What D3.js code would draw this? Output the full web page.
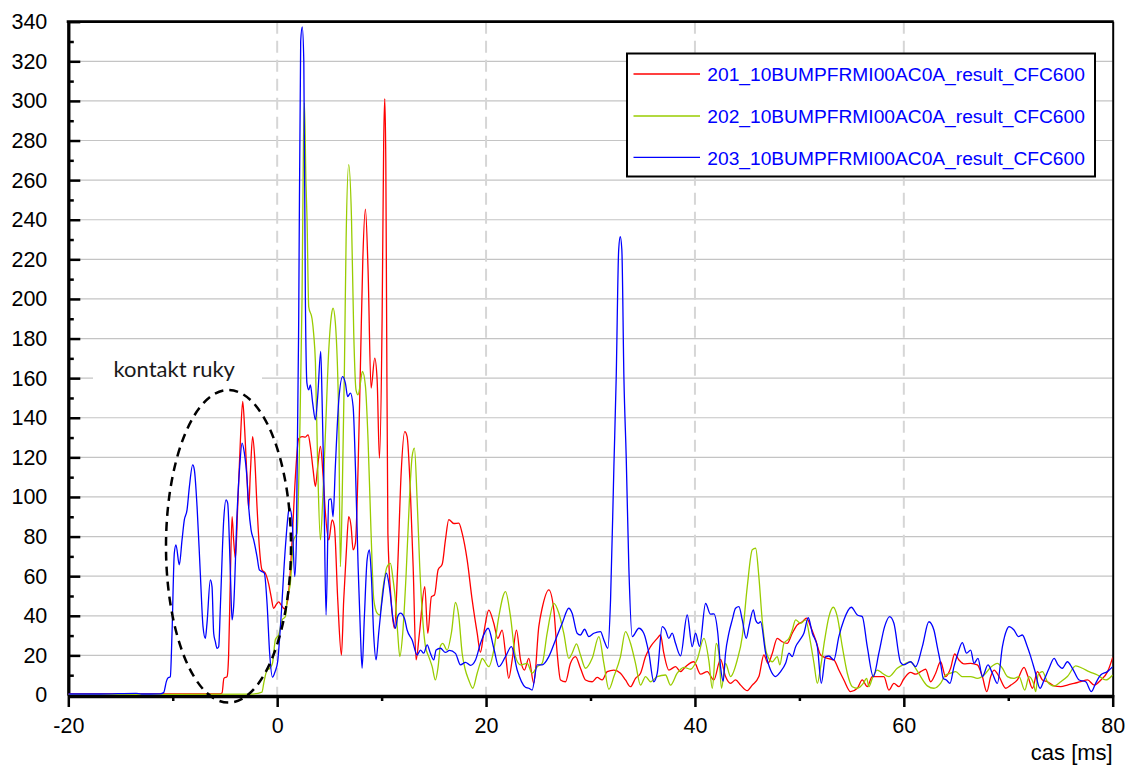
<!DOCTYPE html>
<html>
<head>
<meta charset="utf-8">
<script src="https://cdn.jsdelivr.net/npm/d3@7"></script>
<style>
  html, body { margin: 0; padding: 0; background: #fff; }
  svg { display: block; }
</style>
</head>
<body>
<svg id="chart" width="1126" height="765"></svg>
<script>
// ---- data: time [ms], value -------------------------------------------
const seriesNames = [
  "201_10BUMPFRMI00AC0A_result_CFC600",
  "202_10BUMPFRMI00AC0A_result_CFC600",
  "203_10BUMPFRMI00AC0A_result_CFC600"
];

const series201 = [
  [-20,0.5],[-10,0.5],[-5.5,0.5],[-5.28,1],[-5.1,8.4],[-4.8,9.3],[-4.65,20],[-4.5,55],[-4.32,90.1],
  [-4.17,78.3],[-4.0,69.1],[-3.78,95.1],[-3.52,128.9],[-3.3,148.2],[-3.11,133.9],[-2.88,108.6],
  [-2.73,94.3],[-2.57,112],[-2.35,130.5],[-2.16,120.4],[-1.93,95.1],[-1.71,74.9],[-1.45,63.2],
  [-1.13,61.5],[-0.81,56],[-0.58,49.7],[-0.34,43.8],[-0.05,46],[0.15,47],[0.37,45.5],[0.7,43.5],
  [0.95,46.3],[1.2,58],[1.43,78],[1.74,110],[2.06,129.5],[2.38,130.5],[2.7,130.2],[2.96,131.4],
  [3.18,125.5],[3.44,113.7],[3.66,105.3],[3.88,115.4],[4.14,125.5],[4.4,110.3],[4.62,91.8],
  [4.94,78.3],[5.26,88.4],[5.48,85],[5.8,48],[6.15,20.2],[6.37,48],[6.63,73.3],[6.85,90.1],
  [7.08,85],[7.27,73.3],[7.49,76.7],[7.75,115.4],[7.97,165.9],[8.2,220],[8.45,245.4],[8.7,215],
  [8.99,155],[9.34,170.1],[9.57,159.2],[9.79,119.6],[10.05,191.2],[10.2,280],[10.3,301.2],
  [10.4,270],[10.47,200],[10.6,81.7],[10.91,48],[11.23,33.7],[11.54,64.8],[11.87,112],[12.21,133],
  [12.44,130.5],[12.76,101.9],[13.02,64.8],[13.3,17.7],[13.62,31.2],[14.13,54.7],[14.42,31.2],
  [14.77,49.7],[15.06,50.5],[15.41,63.2],[15.8,66],[16.11,78.3],[16.43,88.6],[16.91,86.6],
  [17.39,86.8],[17.71,81.7],[18.19,68.2],[18.67,48],[19.15,31.2],[19.46,21.6],[19.78,31.2],
  [20.26,42.9],[20.74,36.2],[21.12,28.6],[21.54,32.8],[21.86,21.1],[22.17,8.4],[22.5,17.7],
  [22.91,32.8],[23.3,17.7],[23.68,12.6],[24.09,18.5],[24.57,5.9],[25.05,34.5],[25.37,43.8],
  [26.01,53.1],[26.49,42.9],[26.81,21.1],[27.13,7.6],[27.61,6.7],[28.08,16],[28.56,19.4],
  [29.04,13.5],[29.52,7.6],[30.16,6.7],[30.64,8.9],[31.12,7.6],[31.6,11.8],[32.24,12.6],[32.87,11],
  [33.35,7.6],[33.83,4.2],[34.31,8.4],[34.79,11],[35.27,19.4],[35.75,24.4],[36.39,28.6],[36.7,30.3],
  [37.02,21.1],[37.5,12.6],[38.14,14.3],[38.62,11.8],[39.1,14.3],[39.9,16.8],[40.54,10.5],
  [41.18,11.8],[41.81,7.6],[42.45,18],[42.93,9.3],[43.41,5.9],[43.89,7.6],[44.37,5],[45.01,2.2],
  [45.49,5],[46.12,9.3],[46.6,20.2],[46.99,16],[47.41,21.1],[47.88,28.6],[48.36,26.9],[48.84,26.1],
  [49.32,31.2],[49.8,35.4],[50.28,37],[50.69,38.8],[51.08,34.5],[51.56,27.8],[52.04,20.2],
  [52.68,18.5],[53.3,17.7],[53.78,12.6],[54.26,7.6],[54.9,1.7],[55.55,3.4],[56.02,7.6],[56.5,4.2],
  [56.98,9.3],[57.46,9.3],[58.09,9.3],[58.57,2.5],[59.05,5.9],[59.53,4.2],[60.01,8.2],[60.65,11.4],
  [61.13,10.5],[61.61,11.8],[62.09,13],[62.57,6.7],[63.05,11],[63.52,16.8],[64,9.3],[64.48,13.5],
  [64.87,20.7],[65.28,17.7],[65.76,15.7],[66.4,16],[67.04,15.2],[67.52,9.3],[67.94,1.7],[68.32,9.3],
  [68.64,12.6],[69.12,9.3],[69.76,3.4],[70.24,5],[70.87,7.6],[71.51,14],[71.89,9.3],[72.32,3.4],
  [72.79,11.8],[73.27,7.6],[73.75,6.7],[74.39,4.6],[75.03,4.2],[75.66,5],[76.3,5.9],[76.94,6.7],
  [77.59,7.6],[78.23,5],[78.87,7.6],[79.51,11.8],[80,19]
];

const series202 = [
  [-20,0.3],[-10,0.3],[-2.6,0.4],[-1.45,1.5],[-1.29,5.9],[-0.97,12.6],[-0.7,13.5],[-0.45,16],
  [-0.17,28],[0.15,30.5],[0.47,37.9],[0.79,39.6],[0.95,48],[1.26,56.4],[1.58,78.3],[1.9,81.7],
  [2.15,128.9],[2.38,200],[2.52,280],[2.61,299],[2.75,260],[2.86,240],[3.02,196],[3.34,190],
  [3.5,182],[3.66,168],[3.88,115.4],[4.14,78.3],[4.36,98.5],[4.62,132.2],[4.94,174.3],[5.2,192],
  [5.35,195.4],[5.57,188],[5.9,137.3],[6.05,64.8],[6.22,98.5],[6.44,165.9],[6.6,230],[6.85,267.8],
  [7.11,241.7],[7.33,182.8],[7.55,154],[7.75,151.6],[7.97,157.5],[8.16,163.4],[8.45,156],
  [8.7,128.9],[8.99,81.7],[9.25,48],[9.57,41.3],[9.82,40.4],[10.11,53.1],[10.52,64.8],[10.84,66.5],
  [11.1,58.1],[11.32,48],[11.54,31.2],[11.74,19.4],[12.02,31.2],[12.35,61.5],[12.66,98.5],
  [12.92,120.4],[13.14,124.7],[13.4,98.5],[13.65,64.8],[13.94,37.9],[14.2,24.4],[14.51,19.4],
  [14.84,14.3],[15.15,7.6],[15.41,14.3],[15.63,24.8],[15.85,26.1],[16.27,22.7],[16.7,32],
  [17.07,46.7],[17.39,39.6],[17.71,21.1],[18.0,13],[18.34,7.6],[18.73,3.4],[19.15,11],[19.47,16.5],
  [19.62,18.5],[20.26,14.3],[20.74,22.7],[21.22,39.6],[21.86,52.2],[22.34,39.6],[22.82,19.4],
  [23.3,15.2],[23.94,16],[24.41,11],[24.9,14.3],[25.37,16],[25.85,31.2],[26.49,46.3],[26.97,41.3],
  [27.44,31.2],[27.92,18.5],[28.24,21.1],[28.66,25.8],[29.04,20.2],[29.52,13.5],[30.16,18.5],
  [30.8,29.5],[31.28,16],[31.76,2.9],[32.24,9.3],[32.87,19.4],[33.35,32],[33.83,26.1],[34.31,16],
  [34.79,5],[35.27,9.3],[35.75,6.7],[36.39,9.3],[37.18,10.1],[37.66,5],[38.3,11],[38.94,14],
  [39.58,13],[40.22,18],[40.86,28.6],[41.34,17],[41.66,3.4],[42.04,26],[42.29,21.1],[42.54,3.4],
  [42.93,16],[43.41,9.3],[44.05,17.7],[44.53,29.5],[45.01,54.7],[45.49,73.3],[45.81,74.1],
  [46.12,59.8],[46.44,37.9],[46.86,21.1],[47.41,16.8],[47.88,19.4],[48.13,15.2],[48.52,26.1],
  [49,28.6],[49.32,32.8],[49.64,37.9],[50.12,36.2],[50.6,37.9],[51.08,26.1],[51.4,16],[51.72,5.9],
  [52.04,14.3],[52.42,27.8],[52.83,39.6],[53.25,44.3],[53.63,39.6],[54.11,24.4],[54.59,11],
  [55.07,4.2],[55.55,3.4],[56.12,5.9],[56.44,8.4],[56.66,4.2],[56.98,8.4],[57.46,12.6],[57.94,11],
  [58.57,9.3],[59.37,13.5],[60.01,15.5],[60.65,16.8],[61.13,13.5],[61.61,9.3],[62.25,4.6],
  [62.88,3.4],[63.52,5.9],[64,10.1],[64.48,11],[64.96,11.8],[65.6,9.3],[66.4,9.3],[67.04,8.4],
  [67.68,10.1],[68.32,14],[68.96,16],[69.44,13.5],[69.92,9.3],[70.55,8.4],[71.03,9.3],[71.58,2.5],
  [71.99,9.3],[72.41,5.9],[72.63,1.7],[72.85,10.1],[73.27,11.8],[73.75,6.7],[74.39,4.6],
  [75.03,6.7],[75.66,9.3],[76.46,14.7],[77.1,13.5],[77.74,11.8],[78.54,10.1],[79.34,7.6],[80,10.1]
];

const series203 = [
  [-20,0.5],[-17,0.5],[-13.5,0.8],[-13,0.5],[-11.2,0.6],[-10.87,1.2],[-10.6,7],[-10.49,8.4],
  [-10.23,9.3],[-10.07,31],[-9.85,71.6],[-9.69,75.8],[-9.37,65.7],[-9.11,78.3],[-8.89,88.4],
  [-8.63,93.5],[-8.41,105],[-8.09,116.2],[-7.93,113.7],[-7.67,95],[-7.36,61.5],[-7.1,34.5],
  [-6.88,28.6],[-6.72,36.2],[-6.4,58.1],[-6.24,54.7],[-6.08,31.2],[-5.92,26.9],[-5.76,23.6],
  [-5.6,24.4],[-5.44,44.6],[-5.12,88.4],[-4.9,98.5],[-4.74,96.9],[-4.48,61.5],[-4.32,37.9],
  [-4.17,44.6],[-3.84,91.8],[-3.59,115.4],[-3.36,127.2],[-3.14,122.1],[-2.88,108.6],[-2.73,95.1],
  [-2.5,83.4],[-2.25,78.3],[-1.93,69.9],[-1.71,63.2],[-1.45,62.3],[-1.23,61.5],[-0.97,46.3],
  [-0.72,21.1],[-0.45,9],[-0.2,11.8],[0.05,17],[0.31,34.5],[0.79,74.9],[1.1,93],[1.2,94.3],
  [1.43,88.4],[1.68,59.8],[1.84,78.3],[2.06,189.5],[2.25,330],[2.4,337.4],[2.55,320],[2.7,200],
  [2.85,157.5],[3.02,154.1],[3.18,156.6],[3.4,147.4],[3.66,139],[3.88,150.7],[4.17,173.5],[4.3,149],
  [4.46,110],[4.68,40.4],[4.94,98.5],[5.16,99],[5.35,90],[5.57,115.4],[5.9,149],[6.27,160.8],
  [6.53,157.5],[6.75,150.7],[7.01,152.4],[7.27,145.7],[7.49,115.4],[7.75,64.8],[7.97,31.2],
  [8.13,13.5],[8.35,39.6],[8.61,68.2],[8.83,73.3],[9.02,59.8],[9.25,29.5],[9.47,17.7],[9.72,31.2],
  [10.05,48],[10.46,61.5],[10.78,53.1],[11.06,39.6],[11.32,33.7],[11.54,39.6],[11.8,41.3],
  [12.18,38.8],[12.44,32.8],[12.92,27.8],[13.4,20.2],[13.72,22.7],[14.03,21.1],[14.36,25.3],
  [14.67,21.1],[14.99,17.7],[15.22,22.7],[15.63,23.6],[16.11,21.5],[16.5,22.5],[17.07,21],
  [17.55,15.2],[18.03,16.5],[18.51,15],[18.99,17.7],[19.47,26.1],[20.2,33.7],[20.74,23.6],
  [21.22,14.3],[21.86,19.4],[22.43,24.4],[22.98,12.6],[23.77,3.9],[24.09,3.4],[24.41,2.5],
  [24.9,15.2],[25.37,15.2],[26.01,19.4],[26.65,27.8],[27.29,36.2],[27.92,43.8],[28.24,41.3],
  [28.72,31.2],[29.04,30.3],[29.43,33.2],[29.84,29.5],[30.32,31.2],[30.96,32],[31.28,27.8],
  [31.66,23.6],[31.92,48],[32.24,115.4],[32.46,160],[32.7,225],[32.85,231.4],[33.0,225],[33.2,160],
  [33.42,120],[33.67,64.8],[34,29.5],[34.63,33.7],[35.1,31.2],[35.59,21.1],[36.06,6.7],[36.39,11],
  [36.87,34.5],[37.18,32.8],[37.5,28.6],[37.82,31.2],[38.14,26.1],[38.62,19.8],[39.26,40.4],
  [39.74,24.4],[40.06,31.2],[40.44,24.6],[41.02,46.2],[41.49,40.8],[41.81,41],[42.19,31.2],
  [42.45,14.3],[42.7,7],[42.93,21.1],[43.25,31.2],[43.57,37.9],[43.89,43.8],[44.21,44.6],
  [44.53,37.9],[44.91,28.6],[45.17,34.5],[45.59,43],[45.81,37.9],[46.07,36.2],[46.29,37],
  [46.77,21.1],[47.24,12.6],[47.72,9.3],[48.2,11.8],[48.68,16],[49,21.1],[49.32,19.4],[49.64,24.4],
  [50.05,27.8],[50.43,31.2],[50.85,39],[51.24,31.2],[51.72,24.4],[52.1,5.9],[52.51,19.4],
  [52.83,19.7],[53.3,17.7],[53.78,29.5],[54.26,37.9],[54.97,44.3],[55.55,40.4],[56.02,39.6],
  [56.5,24.4],[57.08,9.3],[57.61,21.1],[58.16,34.5],[58.64,39.6],[59.05,36.2],[59.69,16.5],
  [60.01,15.2],[60.65,16.8],[61.13,14.3],[61.77,24.4],[62.4,37],[62.88,32.8],[63.2,24.4],[63.52,16],
  [63.78,8.4],[64.07,7.6],[64.42,5.9],[64.8,14.3],[65.18,21.1],[65.6,26.4],[66.01,21.1],[66.4,22.7],
  [66.72,16],[67.1,18.5],[67.52,9.3],[68.06,15.2],[68.48,11],[68.96,5.9],[69.44,24.4],[69.85,32.8],
  [70.07,34.5],[70.55,32.8],[70.97,29.5],[71.35,30.3],[71.77,25.3],[72.15,19.4],[72.53,12.6],
  [73.04,3.4],[73.43,7.6],[73.91,13.5],[74.39,18.5],[74.77,15.2],[75.18,13.5],[75.66,16.8],
  [76.14,13.5],[76.78,7.6],[77.42,6.7],[77.96,1.7],[78.37,5.9],[78.85,10.1],[79.49,11.8],[80,14.3]
];

const seriesColors = ["#ff0000", "#99cc00", "#0000ff"];

// ---- axes / labels --------------------------------------------------------
const xTicksMajor = [-20, 0, 20, 40, 60, 80];
const xTicksMinor = [-10, 10, 30, 50, 70];
const xGridValues = [0, 20, 40, 60];
const yTicksMajor = [0, 20, 40, 60, 80, 100, 120, 140, 160, 180, 200, 220, 240, 260, 280, 300, 320, 340];
const yTicksMinor = [10, 30, 50, 70, 90, 110, 130, 150, 170, 190, 210, 230, 250, 270, 290, 310, 330];
const yGridValues = [20, 40, 60, 80, 100, 120, 140, 160, 180, 200, 220, 240, 260, 280, 300, 320];
const xAxisTitle = "cas [ms]";
const noteText = "kontakt ruky";

// ---- drawing --------------------------------------------------------------
const svg = d3.select("#chart");
const FONT = '"Liberation Sans", Arial, sans-serif';

const plotL = 68.3, plotR = 1112.7, plotT = 21.7, plotB = 695;
const x = d3.scaleLinear().domain([-20, 80]).range([plotL, plotR]);
const y = d3.scaleLinear().domain([0, 340]).range([plotB, plotT]);

// plain ASCII hyphen for negative tick labels
const plainFormat = d => String(d);

// grid
const grid = svg.append("g");
grid.selectAll("line.h").data(yGridValues).join("line")
  .attr("class", "h")
  .attr("x1", plotL).attr("x2", plotR)
  .attr("y1", d => y(d)).attr("y2", d => y(d))
  .attr("stroke", "#c4c4c4").attr("stroke-width", 1.2);
grid.selectAll("line.v").data(xGridValues).join("line")
  .attr("class", "v")
  .attr("x1", d => x(d)).attr("x2", d => x(d))
  .attr("y1", plotT).attr("y2", plotB)
  .attr("stroke", "#d6d6d6").attr("stroke-width", 2)
  .attr("stroke-dasharray", "12,7");

// note label on a white patch
svg.append("rect").attr("x", 93).attr("y", 352).attr("width", 169).attr("height", 44).attr("fill", "#fff");
svg.append("text").attr("x", 113.5).attr("y", 376.5)
  .attr("font-family", "Lato, 'Open Sans', sans-serif").attr("font-size", 22)
  .attr("fill", "#1a1a1a").text(noteText);

// axes
const axisStyle = g => {
  g.selectAll(".tick line").attr("stroke", "#000").attr("stroke-width", 2.5);
  g.selectAll(".tick text").attr("font-family", FONT).attr("font-size", 21.5).attr("fill", "#000");
};

const yAxis = svg.append("g").attr("transform", `translate(${plotL},0)`)
  .call(d3.axisLeft(y).tickValues(yTicksMajor).tickFormat(plainFormat)
    .tickSize(-12).tickSizeOuter(0).tickPadding(21))
  .call(axisStyle);
yAxis.select(".domain").attr("stroke", "#000").attr("stroke-width", 3.3);

svg.append("g").attr("transform", `translate(${plotL},0)`)
  .call(d3.axisLeft(y).tickValues(yTicksMinor).tickSize(-5.5).tickFormat(""))
  .call(axisStyle)
  .call(g => g.select(".domain").remove());

const xAxis = svg.append("g").attr("transform", `translate(0,${plotB})`)
  .call(d3.axisBottom(x).tickValues(xTicksMajor).tickFormat(plainFormat)
    .tickSize(12).tickSizeOuter(0).tickPadding(11))
  .call(axisStyle);
xAxis.select(".domain").attr("stroke", "#000").attr("stroke-width", 3.3)
  .attr("transform", "translate(0,1)");

svg.append("g").attr("transform", `translate(0,${plotB})`)
  .call(d3.axisBottom(x).tickValues(xTicksMinor).tickSize(6).tickFormat(""))
  .call(axisStyle)
  .call(g => g.select(".domain").remove());

// top and right frame
svg.append("line").attr("x1", plotL - 1.6).attr("x2", plotR + 1).attr("y1", plotT).attr("y2", plotT)
  .attr("stroke", "#000").attr("stroke-width", 2.7);
svg.append("line").attr("x1", plotR + 0.5).attr("x2", plotR + 0.5).attr("y1", plotT).attr("y2", plotB + 2.5)
  .attr("stroke", "#000").attr("stroke-width", 2);

// axis title
svg.append("text").attr("x", plotR).attr("y", 760).attr("text-anchor", "end")
  .attr("font-family", FONT).attr("font-size", 22).attr("fill", "#000").text(xAxisTitle);

// data lines
svg.append("clipPath").attr("id", "plotClip").append("rect")
  .attr("x", plotL).attr("y", plotT).attr("width", plotR - plotL).attr("height", plotB - plotT + 1);

const line = d3.line().x(d => x(d[0])).y(d => y(d[1])).curve(d3.curveMonotoneX);
const allSeries = [series201, series202, series203];
svg.append("g").attr("clip-path", "url(#plotClip)")
  .selectAll("path").data(allSeries).join("path")
  .attr("d", line)
  .attr("fill", "none")
  .attr("stroke", (d, i) => seriesColors[i])
  .attr("stroke-width", 1.3)
  .attr("stroke-linejoin", "round");

// dashed ellipse around the early hand-contact peaks
svg.append("ellipse").attr("cx", 228.5).attr("cy", 546.3).attr("rx", 62.5).attr("ry", 156.3)
  .attr("fill", "none").attr("stroke", "#000").attr("stroke-width", 2.5)
  .attr("stroke-dasharray", "9,6");

// legend
const lg = svg.append("g");
lg.append("rect").attr("x", 627).attr("y", 53.5).attr("width", 468).attr("height", 123)
  .attr("fill", "#fff").attr("stroke", "#000").attr("stroke-width", 2);
const legendRows = [74, 116, 157.3];
seriesNames.forEach((name, i) => {
  lg.append("line").attr("x1", 633.5).attr("x2", 700).attr("y1", legendRows[i]).attr("y2", legendRows[i])
    .attr("stroke", seriesColors[i]).attr("stroke-width", 1.3);
  lg.append("text").attr("x", 707.3).attr("y", legendRows[i] + 7.3)
    .attr("font-family", FONT).attr("font-size", 19.2).attr("fill", "#0000ff").text(name);
});
</script>
</body>
</html>
